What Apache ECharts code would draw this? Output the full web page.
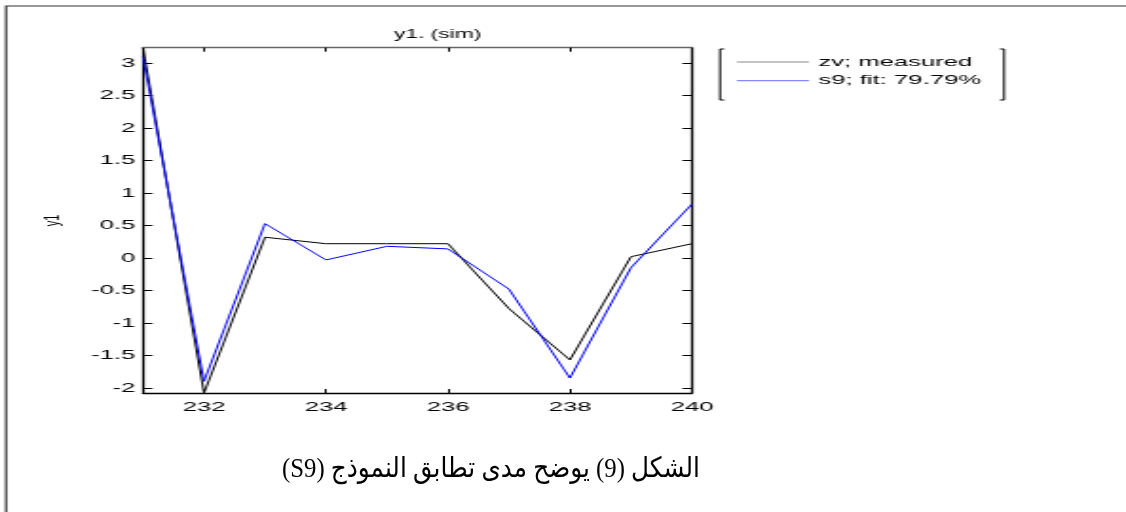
<!DOCTYPE html>
<html>
<head>
<meta charset="utf-8">
<script src="https://cdn.jsdelivr.net/npm/echarts@6/dist/echarts.min.js"></script>
<style>
  html, body { margin: 0; padding: 0; background: #fff; overflow: hidden; }
  #wrap { position: relative; width: 1126px; height: 512px; overflow: hidden; background: #fff; }
  /* the figure is drawn narrow and widened, like a figure stretched across a page */
  #chart { position: absolute; left: 0; top: 0; width: 593px; height: 512px;
           transform-origin: 0 0; transform: scaleX(1.8988); }
  #caption { position: absolute; left: 0; top: 0; white-space: nowrap; line-height: 1;
             font-size: 28px; color: #000; transform-origin: 0 50%;
             font-family: "Liberation Serif", "DejaVu Serif", "DejaVu Sans", serif; }
</style>
</head>
<body>
<div id="wrap">
  <div id="chart"></div>
  <div id="caption" dir="rtl" lang="ar">الشكل (9) يوضح مدى تطابق النموذج (S9)</div>
</div>
<script>
// sample index along the x axis
const samples   = [231, 232, 233, 234, 235, 236, 237, 238, 239, 240];
// measured output zv
const measured  = [3.24, -2.08, 0.32, 0.22, 0.22, 0.22, -0.78, -1.57, 0.02, 0.22];
// simulated output of model s9
const simulated = [3.10, -1.90, 0.53, -0.03, 0.18, 0.14, -0.48, -1.85, -0.15, 0.83];

const xTicks = [232, 234, 236, 238, 240];
const yTicks = [-2, -1.5, -1, -0.5, 0, 0.5, 1, 1.5, 2, 2.5, 3];
const seriesNames = ['zv; measured', 's9; fit: 79.79%'];
const titleText = 'y1. (sim)';
const yName = 'y1';

const FONT = '"Liberation Sans", Arial, sans-serif';
const pairs = (ys) => samples.map((x, i) => [x, ys[i]]);

const chart = echarts.init(document.getElementById('chart'), null, { renderer: 'canvas' });

const xBase = {
  type: 'value', min: 231, max: 240,
  splitLine: { show: false }
};
const yBase = {
  type: 'value', min: -2.08, max: 3.24,
  splitLine: { show: false }
};

chart.setOption({
  animation: false,
  backgroundColor: 'transparent',
  grid: { left: 75.3, right: 228.6, top: 47.7, bottom: 119, containLabel: false },
  xAxis: [
    Object.assign({}, xBase, {
      position: 'bottom',
      axisLine: { show: true, onZero: false, lineStyle: { color: '#000', width: 1.3 } },
      axisTick: { show: true, inside: true, length: 4, customValues: xTicks, lineStyle: { color: '#000', width: 1 } },
      axisLabel: { show: true, customValues: xTicks, margin: 7, fontSize: 13.5, color: '#000', fontFamily: FONT }
    }),
    Object.assign({}, xBase, {
      position: 'top',
      axisLine: { show: true, onZero: false, lineStyle: { color: '#666', width: 1.3 } },
      axisTick: { show: true, inside: true, length: 4, customValues: xTicks, lineStyle: { color: '#000', width: 1 } },
      axisLabel: { show: false }
    })
  ],
  yAxis: [
    Object.assign({}, yBase, {
      position: 'left',
      name: yName, nameLocation: 'middle', nameGap: 42,
      nameTextStyle: { fontSize: 11, color: '#000', fontFamily: FONT },
      axisLine: { show: true, onZero: false, lineStyle: { color: '#000', width: 1.3 } },
      axisTick: { show: true, inside: true, length: 5, customValues: yTicks, lineStyle: { color: '#000', width: 1 } },
      axisLabel: { show: true, customValues: yTicks, margin: 4, fontSize: 13.5, color: '#000', fontFamily: FONT }
    }),
    Object.assign({}, yBase, {
      position: 'right',
      axisLine: { show: true, onZero: false, lineStyle: { color: '#000', width: 1.3 } },
      axisTick: { show: true, inside: true, length: 5, customValues: yTicks, lineStyle: { color: '#000', width: 1 } },
      axisLabel: { show: false }
    })
  ],
  legend: {
    orient: 'vertical', left: 387.6, top: 55, padding: 0,
    itemWidth: 38, itemHeight: 14, itemGap: 4.7,
    textStyle: { fontSize: 13.5, lineHeight: 14, color: '#000', fontFamily: FONT },
    data: [
      { name: seriesNames[0], itemStyle: { opacity: 0 }, lineStyle: { color: '#8a8a8a', width: 1 } },
      { name: seriesNames[1], itemStyle: { opacity: 0 }, lineStyle: { color: '#6a6aff', width: 1 } }
    ]
  },
  graphic: [
    // outer frame of the figure
    { type: 'rect', silent: true, z: -1,
      shape: { x: 3.2, y: 6, width: 2000, height: 2000 },
      style: { fill: null, stroke: '#333', lineWidth: 1.2 } },
    // plot title
    { type: 'text', silent: true, x: 230.5, y: 35,
      style: { text: titleText, fontSize: 12, fontFamily: FONT, fill: '#000',
               textAlign: 'center', textVerticalAlign: 'middle' } },
    // legend box edges
    { type: 'polyline', silent: true,
      shape: { points: [[381.4, 49], [379.2, 49], [379.2, 100], [381.4, 100]] },
      style: { fill: null, stroke: '#000', lineWidth: 1 } },
    { type: 'polyline', silent: true,
      shape: { points: [[526.6, 49], [528.8, 49], [528.8, 100], [526.6, 100]] },
      style: { fill: null, stroke: '#000', lineWidth: 1 } }
  ],
  series: [
    { name: seriesNames[0], type: 'line', xAxisIndex: 0, yAxisIndex: 0,
      data: pairs(measured), symbol: 'none', smooth: false,
      lineStyle: { color: '#000', width: 1 }, itemStyle: { color: '#000' } },
    { name: seriesNames[1], type: 'line', xAxisIndex: 0, yAxisIndex: 0,
      data: pairs(simulated), symbol: 'none', smooth: false,
      lineStyle: { color: '#0000ff', width: 1 }, itemStyle: { color: '#0000ff' } }
  ]
});

// caption under the figure, fitted to its line width
function placeCaption() {
  const cap = document.getElementById('caption');
  cap.style.transform = 'none';
  const w = cap.offsetWidth, h = cap.offsetHeight;
  const target = 418, cx = 491, cy = 468;
  cap.style.left = (cx - target / 2) + 'px';
  cap.style.top = (cy - h / 2) + 'px';
  cap.style.transform = 'scaleX(' + (target / w) + ')';
}
placeCaption();
if (document.fonts && document.fonts.ready) document.fonts.ready.then(placeCaption);
</script>
</body>
</html>
